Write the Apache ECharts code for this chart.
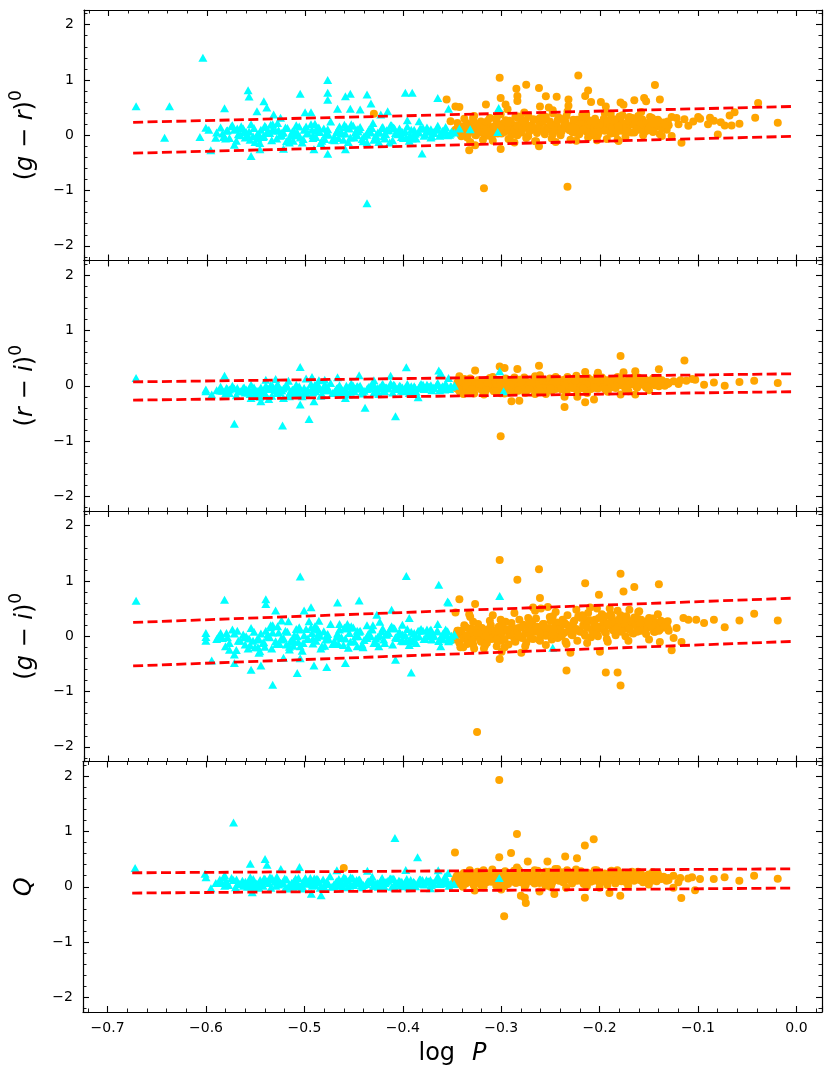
<!DOCTYPE html>
<html lang="en">
<head>
    <meta charset="UTF-8">
    <title>colour vs log P</title>
    <script type="text/javascript" src="https://cdn.jsdelivr.net/npm/echarts/dist/echarts.min.js"></script>
    <style>
        body { margin: 0; background: #fff; }
    </style>
</head>
<body>
<div id="main" style="width: 830px;height:1089px;"></div>
<script type="text/javascript">
    // log P of the cyan (triangle) stars in the dense band
    var CX = [
        -0.590,-0.586,-0.581,-0.579,-0.574,-0.570,-0.568,-0.563,-0.561,-0.557,
        -0.555,-0.551,-0.549,-0.545,-0.543,-0.540,-0.536,-0.534,-0.530,-0.528,
        -0.526,-0.522,-0.518,-0.516,-0.513,-0.509,-0.507,-0.503,-0.501,-0.498,
        -0.494,-0.492,-0.488,-0.486,-0.483,-0.479,-0.477,-0.474,-0.470,-0.468,
        -0.465,-0.461,-0.459,-0.455,-0.453,-0.450,-0.446,-0.444,-0.441,-0.437,
        -0.435,-0.431,-0.429,-0.426,-0.422,-0.420,-0.417,-0.413,-0.411,-0.408,
        -0.404,-0.402,-0.398,-0.396,-0.393,-0.389,-0.387,-0.384,-0.380,-0.378,
        -0.375,-0.371,-0.369,-0.366,-0.362,-0.360,-0.357,-0.353,-0.351,-0.348,
        -0.553,-0.538,-0.524,-0.508,-0.492,-0.478,-0.463,-0.447,-0.433,-0.418,
        -0.403,-0.388,-0.373,-0.546,-0.516,-0.484,-0.456,-0.425,-0.394,-0.365
    ];
    var CX2 = [
        -0.584,-0.577,-0.572,-0.566,-0.560,-0.556,-0.552,-0.547,-0.542,-0.538,
        -0.533,-0.529,-0.524,-0.520,-0.515,-0.511,-0.506,-0.502,-0.497,-0.493,
        -0.489,-0.485,-0.481,-0.476,-0.472,-0.467,-0.463,-0.458,-0.454,-0.449,
        -0.445,-0.440,-0.436,-0.432,-0.428,-0.424,-0.419,-0.415,-0.410,-0.406,
        -0.401,-0.397,-0.392,-0.388,-0.383,-0.379,-0.374,-0.370,-0.365,-0.361,
        -0.356,-0.352,-0.569,-0.548,-0.527,-0.505,-0.487,-0.466,-0.447,-0.428,
        -0.409,-0.390,-0.372,-0.355,-0.562,-0.541,-0.519,-0.499,-0.480,-0.460,
        -0.442,-0.421,-0.400,-0.382,-0.363,-0.535,-0.512,-0.490,-0.470,-0.451,
        -0.430,-0.412,-0.391,-0.376,-0.358,-0.580,-0.558,-0.533,-0.511,-0.488
    ];
    var GR_C = [
        0.05,0.14,-0.06,0.09,0.18,-0.10,0.02,0.12,-0.04,0.07,
        0.20,-0.12,0.01,0.10,-0.03,0.15,0.04,-0.09,0.08,0.22,
        -0.01,0.05,0.13,-0.08,0.07,0.18,0.00,-0.13,0.10,0.04,
        0.20,-0.05,0.08,0.14,-0.10,0.02,0.11,0.25,-0.03,0.06,
        0.16,-0.08,0.03,0.12,0.20,-0.04,0.07,0.15,-0.11,0.01,
        0.10,0.22,-0.06,0.05,0.13,-0.02,0.09,0.18,-0.09,0.04,
        0.12,-0.03,0.07,0.16,0.00,0.10,-0.06,0.05,0.13,0.02,
        0.09,-0.02,0.06,0.12,0.03,0.08,0.15,0.01,0.07,0.05,
        -0.02,0.06,0.00,0.05,0.00,0.03,0.06,0.00,0.05,0.02,
        0.08,0.03,0.07,-0.14,-0.13,-0.14,-0.12,-0.12,-0.10,0.17
    ];
    var GR_C2 = [
        0.03,-0.05,0.10,0.00,0.06,-0.08,0.13,0.02,-0.02,0.08,
        0.11,-0.06,0.04,0.14,-0.01,0.07,0.16,-0.07,0.03,0.10,
        -0.03,0.06,0.12,0.01,-0.08,0.09,0.03,0.15,-0.04,0.05,
        0.11,-0.02,0.07,0.13,0.00,0.05,-0.06,0.09,0.14,0.02,
        0.06,-0.04,0.10,0.03,0.12,-0.01,0.07,0.04,0.10,0.01,
        0.06,0.03,0.12,-0.06,0.09,-0.04,0.13,-0.05,0.11,-0.03,
        0.12,-0.02,0.11,0.00,0.07,0.17,-0.11,0.16,-0.07,0.19,
        -0.07,0.15,-0.05,0.12,-0.01,0.19,-0.10,0.21,-0.09,0.17,
        -0.08,0.18,-0.06,0.14,0.10,0.08,-0.02,0.20,0.00,0.13
    ];
    var RI_C = [
        -0.08,-0.02,-0.14,-0.06,0.00,-0.17,-0.10,-0.04,-0.12,-0.07,
        0.02,-0.15,-0.09,-0.03,-0.11,0.00,-0.06,-0.18,-0.08,0.03,
        -0.12,-0.05,-0.01,-0.14,-0.07,0.02,-0.10,-0.19,-0.04,-0.08,
        0.03,-0.12,-0.06,-0.01,-0.15,-0.08,-0.03,0.05,-0.11,-0.05,
        0.01,-0.13,-0.07,-0.02,0.04,-0.10,-0.05,0.00,-0.14,-0.06,
        -0.02,0.05,-0.11,-0.04,0.01,-0.08,-0.03,0.04,-0.12,-0.05,
        0.00,-0.09,-0.03,0.03,-0.07,-0.01,-0.11,-0.04,0.02,-0.06,
        -0.02,-0.08,-0.03,0.02,-0.05,-0.01,0.04,-0.06,-0.02,0.00,
        -0.09,-0.05,-0.08,-0.04,-0.07,-0.03,-0.06,-0.02,-0.05,-0.03,
        -0.01,-0.04,-0.02,-0.20,-0.19,-0.18,-0.16,-0.15,-0.13,0.05
    ];
    var RI_C2 = [
        -0.09,-0.13,-0.05,-0.10,-0.07,-0.15,-0.03,-0.09,-0.12,-0.05,
        -0.04,-0.13,-0.08,-0.02,-0.11,-0.06,-0.01,-0.14,-0.09,-0.04,
        -0.10,-0.06,-0.02,-0.08,-0.13,-0.04,-0.07,0.00,-0.11,-0.05,
        -0.02,-0.09,-0.04,0.01,-0.07,-0.03,-0.10,-0.05,0.02,-0.06,
        -0.03,-0.08,-0.01,-0.05,0.01,-0.06,-0.02,-0.04,0.02,-0.03,
        -0.05,-0.01,-0.04,-0.12,-0.03,-0.14,0.00,-0.12,-0.01,-0.10,
        0.01,-0.09,0.01,-0.06,-0.03,-0.13,0.00,-0.14,0.02,-0.12,
        -0.11,0.03,-0.10,0.03,-0.08,0.01,-0.14,0.02,-0.13,0.00,
        -0.12,0.01,-0.09,0.02,-0.07,-0.04,-0.12,-0.01,-0.15,0.00
    ];
    var GI_C = [
        -0.05,0.06,-0.18,-0.02,0.12,-0.25,-0.08,0.03,-0.15,-0.04,
        0.15,-0.20,-0.06,0.05,-0.12,0.10,-0.02,-0.22,-0.09,0.18,
        -0.14,-0.03,0.08,-0.19,-0.07,0.13,-0.10,-0.26,0.02,-0.05,
        0.16,-0.13,-0.02,0.07,-0.18,-0.06,0.04,0.22,-0.10,-0.01,
        0.12,-0.16,-0.04,0.06,0.18,-0.09,0.00,0.10,-0.20,-0.03,
        0.05,0.20,-0.12,-0.01,0.09,-0.06,0.03,0.15,-0.15,-0.02,
        0.08,-0.08,0.02,0.13,-0.05,0.06,-0.12,0.00,0.10,-0.04,
        0.05,-0.06,0.02,0.09,-0.03,0.04,0.12,-0.07,0.01,0.03,
        -0.08,-0.01,-0.06,0.00,-0.04,0.02,-0.03,0.01,0.00,0.03,
        0.04,0.00,0.02,-0.27,-0.24,-0.22,-0.21,-0.18,-0.16,0.22
    ];
    var GI_C2 = [
        -0.03,-0.12,0.05,-0.08,0.00,-0.16,0.08,-0.05,-0.11,0.03,
        0.07,-0.14,-0.03,0.10,-0.09,0.02,0.12,-0.12,-0.04,0.06,
        -0.08,0.01,0.09,-0.05,-0.14,0.05,-0.02,0.14,-0.10,0.00,
        0.08,-0.07,0.03,0.12,-0.04,0.02,-0.12,0.06,0.15,-0.03,
        0.03,-0.08,0.08,-0.01,0.11,-0.05,0.05,0.00,0.09,-0.02,
        0.02,-0.04,0.10,-0.20,0.07,-0.18,0.12,-0.14,0.10,-0.12,
        0.14,-0.10,0.12,-0.06,-0.02,-0.19,-0.15,0.13,-0.17,0.16,
        -0.15,0.14,-0.09,0.13,-0.05,0.20,-0.17,0.18,-0.13,0.16,
        -0.12,0.18,-0.08,0.12,0.08,0.06,-0.22,0.20,-0.10,0.15
    ];
    var Q_C = [
        0.07,0.13,0.02,0.09,0.16,-0.01,0.05,0.11,0.03,0.08,
        0.17,0.00,0.06,0.12,0.03,0.14,0.07,-0.02,0.09,0.18,
        0.04,0.08,0.13,0.01,0.07,0.15,0.05,-0.03,0.10,0.06,
        0.16,0.02,0.08,0.12,0.00,0.06,0.10,0.19,0.04,0.08,
        0.14,0.01,0.06,0.11,0.17,0.03,0.08,0.13,-0.01,0.05,
        0.10,0.18,0.02,0.07,0.12,0.04,0.09,0.15,0.00,0.06,
        0.11,0.03,0.07,0.14,0.05,0.09,0.01,0.06,0.12,0.04,
        0.09,0.03,0.07,0.11,0.05,0.08,0.13,0.02,0.06,0.05,
        0.05,0.09,0.06,0.08,0.05,0.07,0.09,0.06,0.08,0.07,
        0.10,0.07,0.09,-0.02,-0.03,-0.02,-0.01,0.00,-0.01,0.17
    ];
    var Q_C2 = [
        0.08,0.03,0.12,0.05,0.09,0.01,0.14,0.06,0.02,0.10,
        0.13,0.02,0.07,0.15,0.04,0.09,0.16,0.01,0.06,0.11,
        0.03,0.08,0.13,0.05,0.00,0.10,0.06,0.15,0.02,0.08,
        0.12,0.03,0.09,0.14,0.05,0.07,0.01,0.11,0.15,0.06,
        0.09,0.03,0.12,0.06,0.13,0.05,0.10,0.07,0.12,0.06,
        0.09,0.05,0.13,0.00,0.11,0.01,0.14,0.02,0.12,0.03,
        0.14,0.04,0.12,0.07,0.02,0.15,-0.01,0.16,0.00,0.17,
        0.02,0.16,0.01,0.13,0.05,0.17,0.00,0.15,0.01,0.16,
        0.02,0.15,0.03,0.12,0.10,0.09,0.00,0.16,0.03,0.14
    ];

    // log P of the orange (circle) stars in the dense band
    var OX = [
        -0.347,-0.345,-0.342,-0.340,-0.338,-0.335,-0.333,-0.331,-0.328,-0.326,
        -0.324,-0.321,-0.319,-0.317,-0.314,-0.312,-0.310,-0.307,-0.305,-0.303,
        -0.300,-0.298,-0.296,-0.293,-0.291,-0.289,-0.286,-0.284,-0.282,-0.279,
        -0.277,-0.275,-0.272,-0.270,-0.268,-0.265,-0.263,-0.261,-0.258,-0.256,
        -0.254,-0.251,-0.249,-0.247,-0.244,-0.242,-0.240,-0.237,-0.235,-0.233,
        -0.230,-0.228,-0.226,-0.223,-0.221,-0.219,-0.216,-0.214,-0.212,-0.209,
        -0.207,-0.205,-0.202,-0.200,-0.198,-0.195,-0.193,-0.191,-0.188,-0.186,
        -0.184,-0.181,-0.179,-0.177,-0.174,-0.172,-0.170,-0.167,-0.165,-0.163,
        -0.160,-0.158,-0.156,-0.153,-0.151,-0.149,-0.146,-0.144,-0.142,-0.139,
        -0.137,-0.135,-0.132,-0.130,-0.339,-0.318,-0.297,-0.276,-0.255,-0.234,
        -0.213,-0.192,-0.171,-0.150,-0.332,-0.309,-0.287,-0.266,-0.245,-0.224,
        -0.203,-0.182,-0.161,-0.141,-0.329,-0.301,-0.273,-0.248,-0.218,-0.189
    ];
    var OX2 = [
        -0.346,-0.343,-0.341,-0.339,-0.336,-0.334,-0.332,-0.329,-0.327,-0.325,
        -0.322,-0.320,-0.318,-0.315,-0.313,-0.311,-0.308,-0.306,-0.304,-0.301,
        -0.299,-0.297,-0.294,-0.292,-0.290,-0.287,-0.285,-0.283,-0.280,-0.278,
        -0.276,-0.273,-0.271,-0.269,-0.266,-0.264,-0.262,-0.259,-0.257,-0.255,
        -0.252,-0.250,-0.248,-0.245,-0.243,-0.241,-0.238,-0.236,-0.234,-0.231,
        -0.229,-0.227,-0.224,-0.222,-0.220,-0.217,-0.215,-0.213,-0.210,-0.208,
        -0.206,-0.203,-0.201,-0.199,-0.196,-0.194,-0.192,-0.189,-0.187,-0.185,
        -0.182,-0.180,-0.178,-0.175,-0.173,-0.171,-0.168,-0.166,-0.164,-0.161,
        -0.159,-0.157,-0.154,-0.152,-0.150,-0.147,-0.145,-0.143,-0.140,-0.138,
        -0.336,-0.325,-0.314,-0.302,-0.291,-0.280,-0.269,-0.258,-0.247,-0.236,
        -0.225,-0.214,-0.203,-0.192,-0.181,-0.170,-0.159,-0.148,-0.137,-0.131,
        -0.344,-0.330,-0.316,-0.305,-0.294,-0.283,-0.272,-0.261,-0.250,-0.239,
        -0.228,-0.217,-0.206,-0.195,-0.184,-0.173,-0.162,-0.151,-0.140,-0.134
    ];
    var GR_O = [
        0.10,0.22,0.02,0.15,0.30,-0.04,0.08,0.19,0.35,0.00,
        0.12,0.25,-0.08,0.06,0.17,0.31,-0.02,0.10,0.21,0.38,
        0.03,0.14,0.27,-0.07,0.08,0.19,0.33,0.00,0.12,0.23,
        0.41,-0.05,0.07,0.17,0.29,-0.11,0.10,0.21,0.35,0.02,
        0.14,0.25,-0.06,0.08,0.19,0.32,0.00,0.12,0.23,0.43,
        -0.08,0.06,0.16,0.28,0.02,0.13,0.24,0.38,-0.04,0.09,
        0.19,0.30,0.01,0.12,0.23,0.40,-0.07,0.08,0.18,0.29,
        0.03,0.14,0.25,0.36,-0.03,0.10,0.20,0.31,0.05,0.15,
        0.26,0.42,0.00,0.11,0.21,0.33,0.06,0.16,0.27,0.02,
        0.13,0.23,0.10,0.18,0.06,0.04,0.15,0.26,0.09,0.16,
        0.06,0.24,0.19,0.12,-0.12,-0.10,-0.13,-0.11,-0.12,-0.10,
        -0.09,-0.08,0.35,0.28,0.32,0.38,0.36,0.40,0.37,0.39
    ];
    var GR_O2 = [
        0.06,0.16,-0.02,0.11,0.22,0.04,0.14,0.27,0.01,0.09,
        0.18,0.05,0.13,0.24,-0.01,0.08,0.16,0.29,0.03,0.12,
        0.21,0.06,0.15,0.26,0.00,0.10,0.18,0.31,0.05,0.13,
        0.22,-0.02,0.09,0.17,0.28,0.04,0.14,0.24,0.07,0.33,
        0.11,0.20,0.02,0.16,0.27,0.06,0.13,0.22,0.35,0.09,
        0.17,0.28,0.04,0.12,0.21,0.33,0.08,0.18,0.26,0.00,
        0.14,0.23,0.06,0.16,0.30,0.10,0.20,0.03,0.13,0.25,
        0.17,0.34,0.08,0.21,0.12,0.28,0.05,0.19,0.24,0.10,
        0.16,0.29,0.07,0.22,0.14,0.31,0.11,0.20,0.25,0.15,
        0.16,0.21,0.26,0.14,0.24,0.29,0.11,0.26,0.15,0.30,
        0.13,0.34,0.09,0.27,0.16,0.33,0.20,0.28,0.21,0.25,
        0.18,0.12,0.07,0.31,0.22,0.34,0.16,0.31,0.19,0.07,
        0.06,0.10,0.05,0.08,0.04,0.07,0.11,0.09,0.23,0.19
    ];
    var RI_O = [
        -0.04,0.06,-0.12,0.02,0.12,-0.08,-0.02,0.08,-0.14,0.00,
        0.10,-0.06,0.03,-0.11,0.05,0.14,-0.03,0.01,-0.09,0.09,
        -0.05,0.04,0.13,-0.12,-0.01,0.07,-0.07,0.02,0.11,-0.04,
        0.15,-0.10,0.00,0.06,-0.05,0.12,0.03,-0.08,0.08,-0.02,
        0.04,0.13,-0.09,0.01,0.07,-0.04,0.10,0.02,-0.07,0.16,
        0.05,-0.03,0.09,-0.10,0.03,0.12,-0.02,0.06,0.14,-0.06,
        0.02,0.10,-0.05,0.07,0.15,0.00,-0.08,0.05,0.11,0.03,
        -0.04,0.08,0.13,0.01,-0.06,0.06,0.10,0.03,0.15,-0.02,
        0.07,0.12,0.02,-0.03,0.09,0.05,0.13,0.01,0.08,0.04,
        0.10,0.03,0.07,0.05,-0.15,-0.16,-0.14,-0.13,-0.15,-0.12,
        -0.13,-0.11,-0.10,-0.08,0.13,0.16,0.15,0.17,0.16,0.18,
        0.17,0.16,0.15,0.14,0.03,0.01,0.02,0.04,0.03,0.05
    ];
    var RI_O2 = [
        -0.02,-0.09,0.04,-0.05,0.08,-0.11,0.01,-0.06,0.05,-0.03,
        0.07,-0.08,0.00,0.10,-0.04,0.03,-0.10,0.06,-0.02,0.09,
        -0.06,0.02,0.11,-0.03,0.05,-0.09,0.08,-0.01,0.04,-0.07,
        0.09,0.00,-0.05,0.06,0.12,-0.02,0.03,-0.08,0.07,0.01,
        -0.04,0.10,0.04,-0.06,0.08,0.02,-0.03,0.11,0.05,-0.01,
        0.07,0.02,-0.05,0.09,0.04,0.12,-0.02,0.06,0.01,0.10,
        0.03,-0.04,0.08,0.05,0.11,0.00,0.07,-0.03,0.09,0.04,
        0.06,0.12,0.01,0.08,-0.02,0.10,0.04,0.07,0.13,0.02,
        0.08,0.03,0.11,0.06,0.01,0.09,0.05,0.12,0.07,0.04,
        0.00,0.03,0.05,-0.02,0.02,0.07,0.04,-0.04,0.06,0.01,
        0.09,0.03,0.06,0.10,0.05,0.02,0.08,0.04,0.06,0.03,
        -0.07,-0.06,-0.08,-0.10,-0.07,-0.09,-0.06,-0.08,-0.05,-0.07,
        -0.04,-0.05,-0.03,-0.06,-0.02,-0.04,-0.03,-0.02,-0.01,0.00
    ];
    var GI_O = [
        -0.06,0.10,-0.20,0.02,0.20,-0.14,-0.02,0.14,-0.22,0.05,
        0.22,-0.10,0.08,-0.17,0.12,0.28,-0.05,0.04,-0.18,0.17,
        -0.08,0.09,0.26,-0.15,0.02,0.16,-0.10,0.06,0.30,-0.03,
        0.20,-0.12,0.07,0.14,-0.05,0.32,0.10,-0.08,0.22,0.03,
        0.12,0.35,-0.06,0.08,0.25,0.00,0.18,0.06,-0.10,0.38,
        0.15,0.02,0.28,-0.08,0.10,0.33,0.05,0.20,0.42,-0.02,
        0.12,0.30,0.00,0.18,0.40,0.08,-0.05,0.24,0.35,0.10,
        0.02,0.22,0.38,0.12,0.00,0.28,0.16,0.06,0.34,0.20,
        0.10,0.30,0.14,0.04,0.26,0.18,0.32,0.08,0.22,0.12,
        0.26,0.16,0.20,0.10,-0.20,-0.22,-0.20,-0.18,-0.16,-0.14,
        -0.12,-0.10,-0.08,-0.06,0.35,0.38,0.42,0.46,0.44,0.48,
        0.50,0.46,0.44,0.40,0.26,0.30,0.33,0.36,0.38,0.40
    ];
    var GI_O2 = [
        0.04,-0.12,0.10,-0.04,0.16,-0.09,0.07,-0.15,0.12,0.00,
        -0.07,0.15,0.03,-0.12,0.08,0.20,-0.02,0.11,-0.08,0.05,
        0.18,-0.05,0.12,0.02,0.24,-0.06,0.09,0.15,-0.02,0.21,
        0.05,0.13,-0.04,0.26,0.08,0.17,-0.06,0.11,0.22,0.01,
        0.15,0.28,0.04,0.19,-0.03,0.12,0.30,0.07,0.21,0.14,
        0.03,0.25,0.13,0.36,0.08,0.20,0.01,0.16,0.29,0.10,
        0.22,0.04,0.33,0.14,0.26,0.06,0.19,0.38,0.12,0.24,
        0.16,0.30,0.08,0.22,0.36,0.14,0.27,0.05,0.20,0.31,
        0.18,0.10,0.26,0.15,0.33,0.21,0.08,0.24,0.17,0.28,
        0.02,0.06,-0.04,0.10,0.04,0.16,0.08,0.20,0.13,0.24,
        0.10,0.28,0.16,0.22,0.30,0.12,0.24,0.18,0.26,0.14,
        0.10,-0.08,0.00,-0.06,0.12,0.02,0.22,0.05,0.28,0.00,
        0.06,0.34,0.04,0.36,0.12,0.32,0.08,0.26,0.10,0.20
    ];
    var Q_O = [
        0.12,0.20,0.05,0.15,0.25,0.08,0.13,0.22,0.03,0.17,
        0.27,0.10,0.18,0.06,0.14,0.24,0.09,0.16,0.02,0.21,
        0.12,0.19,0.28,0.05,0.14,0.23,0.08,0.17,0.30,0.11,
        0.20,0.04,0.13,0.25,0.09,0.18,0.29,0.07,0.15,0.22,
        0.10,0.27,0.03,0.16,0.21,0.12,0.26,0.08,0.19,0.30,
        0.14,0.06,0.23,0.11,0.18,0.28,0.05,0.16,0.25,0.09,
        0.20,0.13,0.27,0.07,0.17,0.24,0.10,0.19,0.29,0.12,
        0.06,0.18,0.25,0.14,0.09,0.22,0.16,0.27,0.11,0.19,
        0.13,0.24,0.08,0.17,0.21,0.12,0.26,0.15,0.10,0.19,
        0.14,0.18,0.11,0.16,0.00,-0.01,0.01,0.00,0.02,-0.02,
        0.01,0.03,0.02,0.04,0.30,0.31,0.29,0.30,0.32,0.31,
        0.30,0.28,0.27,0.25,0.13,0.15,0.16,0.14,0.17,0.15
    ];
    var Q_O2 = [
        0.16,0.09,0.21,0.12,0.06,0.18,0.10,0.24,0.14,0.07,
        0.19,0.13,0.22,0.08,0.17,0.11,0.25,0.15,0.05,0.20,
        0.14,0.23,0.09,0.18,0.12,0.26,0.07,0.16,0.21,0.10,
        0.17,0.25,0.11,0.19,0.06,0.22,0.14,0.09,0.18,0.27,
        0.13,0.20,0.08,0.24,0.15,0.11,0.19,0.26,0.12,0.17,
        0.22,0.10,0.18,0.14,0.25,0.08,0.20,0.13,0.23,0.16,
        0.11,0.19,0.24,0.15,0.09,0.21,0.17,0.12,0.26,0.18,
        0.14,0.22,0.10,0.19,0.16,0.24,0.12,0.20,0.15,0.17,
        0.21,0.13,0.18,0.16,0.22,0.11,0.19,0.14,0.17,0.15,
        0.10,0.18,0.13,0.21,0.16,0.08,0.20,0.12,0.24,0.15,
        0.19,0.11,0.23,0.14,0.18,0.25,0.12,0.20,0.16,0.13,
        0.20,0.08,0.16,0.12,0.22,0.10,0.18,0.14,0.21,0.17,
        0.13,0.19,0.24,0.15,0.11,0.21,0.17,0.13,0.18,0.16
    ];

    // scattered stars outside the dense bands, [log P, colour]
    var GR_C_OUT = [[-0.672,0.525],[-0.638,0.525],[-0.643,-0.045],[-0.604,1.40],[-0.607,-0.03],[-0.601,0.135],[-0.598,0.10],[-0.596,-0.27],[-0.591,-0.045],[-0.582,0.49],[-0.583,-0.03],[-0.575,0.165],[-0.572,-0.17],[-0.565,0.165],[-0.558,0.815],[-0.557,0.70],[-0.555,-0.375],[-0.549,0.435],[-0.542,0.615],[-0.539,0.50],[-0.546,-0.255],[-0.532,0.375],[-0.525,0.315],[-0.522,-0.245],[-0.505,0.75],[-0.500,0.415],[-0.494,0.415],[-0.491,-0.255],[-0.477,1.00],[-0.477,0.77],[-0.477,0.64],[-0.477,-0.335],[-0.467,0.48],[-0.459,0.705],[-0.454,0.75],[-0.459,-0.255],[-0.454,0.48],[-0.444,0.465],[-0.437,0.735],[-0.433,0.575],[-0.437,-1.23],[-0.437,-0.13],[-0.423,0.375],[-0.416,0.435],[-0.414,-0.13],[-0.398,0.77],[-0.391,0.77],[-0.396,0.27],[-0.365,0.675],[-0.354,0.48],[-0.384,0.255],[-0.381,-0.33],[-0.372,-0.04],[-0.303,0.495],[-0.304,0.06],[-0.343,0.12],[-0.332,0.11]];
    var GR_O_OUT = [[-0.356,0.645],[-0.347,0.52],[-0.343,0.51],[-0.352,0.255],[-0.333,-0.27],[-0.318,-0.96],[-0.316,0.555],[-0.302,1.04],[-0.301,0.675],[-0.301,-0.25],[-0.296,0.555],[-0.294,0.47],[-0.285,0.84],[-0.284,0.71],[-0.284,0.62],[-0.275,0.915],[-0.262,0.855],[-0.261,0.52],[-0.255,0.705],[-0.244,0.695],[-0.252,0.5],[-0.248,0.45],[-0.233,-0.93],[-0.232,0.645],[-0.232,0.535],[-0.222,1.08],[-0.212,0.81],[-0.215,0.71],[-0.209,0.60],[-0.199,0.60],[-0.194,0.52],[-0.179,0.59],[-0.176,0.55],[-0.165,0.635],[-0.155,0.675],[-0.153,0.615],[-0.144,0.91],[-0.139,0.645],[-0.181,-0.105],[-0.137,-0.015],[-0.127,0.33],[-0.122,0.31],[-0.114,0.29],[-0.117,-0.135],[-0.127,-0.015],[-0.100,0.33],[-0.098,0.30],[-0.088,0.315],[-0.084,0.26],[-0.077,0.235],[-0.080,0.015],[-0.068,0.355],[-0.063,0.415],[-0.073,0.175],[-0.066,0.175],[-0.058,0.21],[-0.042,0.315],[-0.039,0.585],[-0.019,0.225],[-0.120,0.20],[-0.110,0.17],[-0.105,0.25],[-0.090,0.20],[-0.262,-0.20],[-0.327,-0.18],[-0.430,0.39]];

    var RI_C_OUT = [[-0.672,0.14],[-0.601,-0.07],[-0.601,-0.10],[-0.595,-0.16],[-0.586,-0.085],[-0.582,0.18],[-0.577,-0.07],[-0.572,-0.685],[-0.555,-0.22],[-0.545,-0.28],[-0.540,0.11],[-0.530,0.12],[-0.537,-0.24],[-0.523,-0.72],[-0.522,-0.22],[-0.517,0.09],[-0.505,-0.34],[-0.505,0.34],[-0.499,0.13],[-0.493,0.16],[-0.496,-0.60],[-0.491,-0.28],[-0.486,0.10],[-0.480,0.11],[-0.467,0.155],[-0.459,-0.22],[-0.445,0.19],[-0.439,-0.40],[-0.430,0.10],[-0.413,0.18],[-0.408,-0.55],[-0.397,0.335],[-0.385,-0.21],[-0.364,0.275],[-0.354,0.14],[-0.362,0.23],[-0.355,-0.04],[-0.302,0.26],[-0.298,-0.10]];
    var RI_O_OUT = [[-0.343,0.17],[-0.327,0.275],[-0.302,0.35],[-0.297,0.32],[-0.301,-0.915],[-0.301,-0.135],[-0.290,-0.28],[-0.282,-0.27],[-0.284,0.305],[-0.262,0.36],[-0.261,0.19],[-0.266,-0.15],[-0.236,-0.20],[-0.223,-0.20],[-0.236,-0.385],[-0.215,0.25],[-0.215,-0.30],[-0.206,-0.25],[-0.202,0.235],[-0.179,0.54],[-0.176,0.245],[-0.179,-0.16],[-0.164,0.26],[-0.164,-0.16],[-0.140,0.30],[-0.114,0.455],[-0.125,0.08],[-0.118,0.10],[-0.112,0.09],[-0.106,0.12],[-0.103,0.11],[-0.094,0.02],[-0.084,0.06],[-0.073,0.00],[-0.058,0.07],[-0.043,0.09],[-0.019,0.05],[-0.130,0.05],[-0.120,0.03]];

    var GI_C_OUT = [[-0.672,0.64],[-0.601,0.06],[-0.601,-0.015],[-0.601,-0.08],[-0.595,-0.44],[-0.588,0.0],[-0.582,0.66],[-0.577,-0.245],[-0.572,-0.485],[-0.572,-0.33],[-0.555,-0.605],[-0.545,-0.53],[-0.547,-0.30],[-0.540,0.67],[-0.540,0.585],[-0.530,0.465],[-0.535,0.165],[-0.533,-0.875],[-0.524,0.285],[-0.522,-0.39],[-0.517,0.27],[-0.506,0.165],[-0.508,-0.665],[-0.505,-0.40],[-0.505,1.08],[-0.501,0.465],[-0.494,0.525],[-0.496,0.27],[-0.491,-0.53],[-0.486,0.28],[-0.478,-0.555],[-0.467,0.61],[-0.465,0.22],[-0.459,-0.485],[-0.457,0.22],[-0.455,0.16],[-0.445,0.645],[-0.447,-0.18],[-0.437,0.20],[-0.432,0.13],[-0.427,0.39],[-0.424,0.26],[-0.412,0.48],[-0.408,-0.425],[-0.401,0.21],[-0.397,1.09],[-0.394,0.33],[-0.392,-0.655],[-0.385,0.10],[-0.373,0.10],[-0.373,0.0],[-0.364,0.93],[-0.364,-0.085],[-0.354,0.61],[-0.354,-0.05],[-0.355,0.63],[-0.355,0.09],[-0.354,-0.09],[-0.362,-0.18],[-0.302,0.73],[-0.248,-0.21]];
    var GI_O_OUT = [[-0.343,0.67],[-0.347,0.43],[-0.327,0.585],[-0.333,0.40],[-0.302,1.38],[-0.302,-0.41],[-0.325,-1.73],[-0.284,1.02],[-0.262,1.21],[-0.261,0.69],[-0.268,0.52],[-0.253,0.53],[-0.234,-0.62],[-0.215,0.96],[-0.201,0.75],[-0.194,-0.655],[-0.182,-0.655],[-0.179,-0.89],[-0.179,1.13],[-0.176,0.81],[-0.165,0.89],[-0.140,0.94],[-0.139,-0.105],[-0.127,-0.255],[-0.125,-0.03],[-0.131,0.27],[-0.122,0.15],[-0.117,-0.105],[-0.115,0.33],[-0.110,0.30],[-0.102,0.30],[-0.094,0.24],[-0.084,0.30],[-0.073,0.165],[-0.058,0.285],[-0.043,0.405],[-0.019,0.285],[-0.260,0.50],[-0.210,0.52],[-0.190,0.50],[-0.170,0.48],[-0.300,-0.28],[-0.280,-0.30],[-0.230,-0.30],[-0.200,-0.28],[-0.160,0.45]];

    var Q_C_OUT = [[-0.672,0.34],[-0.601,0.235],[-0.600,0.17],[-0.595,-0.025],[-0.586,0.07],[-0.582,0.17],[-0.581,0.21],[-0.572,1.16],[-0.555,0.415],[-0.553,-0.10],[-0.540,0.50],[-0.538,0.40],[-0.524,0.32],[-0.505,0.355],[-0.493,-0.125],[-0.483,-0.155],[-0.467,0.30],[-0.436,0.29],[-0.408,0.88],[-0.397,0.305],[-0.385,0.535],[-0.372,-0.025],[-0.364,0.30],[-0.364,0.17],[-0.354,0.25],[-0.408,-0.02],[-0.357,0.19],[-0.354,0.07],[-0.302,0.16]];
    var Q_O_OUT = [[-0.460,0.34],[-0.347,0.62],[-0.302,1.93],[-0.297,-0.535],[-0.327,-0.07],[-0.318,0.30],[-0.302,0.535],[-0.290,0.61],[-0.284,0.955],[-0.284,0.35],[-0.280,-0.165],[-0.276,-0.20],[-0.275,-0.295],[-0.273,0.455],[-0.261,-0.085],[-0.253,0.455],[-0.246,-0.13],[-0.243,0.32],[-0.235,0.545],[-0.223,0.515],[-0.215,0.745],[-0.206,0.86],[-0.215,-0.20],[-0.205,0.30],[-0.190,-0.115],[-0.179,-0.165],[-0.182,0.30],[-0.117,-0.205],[-0.103,-0.065],[-0.125,-0.02],[-0.125,0.20],[-0.118,0.16],[-0.110,0.15],[-0.106,0.17],[-0.098,0.14],[-0.084,0.14],[-0.073,0.17],[-0.058,0.11],[-0.043,0.20],[-0.019,0.145],[-0.120,0.08],[-0.130,0.12],[-0.320,0.02],[-0.300,-0.05],[-0.250,0.00],[-0.200,-0.02]];

    // dashed boundary lines, [log P, colour] at both ends
    var GR_UP = [[-0.675,0.234],[-0.005,0.52]];
    var GR_LO = [[-0.675,-0.324],[-0.005,-0.02]];
    var RI_UP = [[-0.675,0.07],[-0.005,0.216]];
    var RI_LO = [[-0.675,-0.26],[-0.005,-0.108]];
    var GI_UP = [[-0.675,0.25],[-0.005,0.688]];
    var GI_LO = [[-0.675,-0.537],[-0.005,-0.094]];
    var Q_UP = [[-0.675,0.252],[-0.005,0.324]];
    var Q_LO = [[-0.675,-0.114],[-0.005,-0.024]];

    var X_MIN = -0.725, X_MAX = 0.026;
    var Y_MIN = -2.265, Y_MAX = 2.265;

    function pairs(xs, ys) {
        var out = [];
        for (var k = 0; k < xs.length && k < ys.length; k++) {
            out.push([xs[k], ys[k]]);
        }
        return out;
    }
    function fmt(v, digits) {
        var s = Math.abs(v) < 1e-9 ? (0).toFixed(digits) : v.toFixed(digits);
        return s.replace('-', '\u2212');
    }

    var panels = [
        {name: '{n|(}{i|g}{n| \u2212 }{i|r}{n|)}{s|0}',
            orange: pairs(OX, GR_O).concat(pairs(OX2, GR_O2), GR_O_OUT),
            cyan: pairs(CX, GR_C).concat(pairs(CX2, GR_C2), GR_C_OUT), up: GR_UP, lo: GR_LO},
        {name: '{n|(}{i|r}{n| \u2212 }{i|i}{n|)}{s|0}',
            orange: pairs(OX, RI_O).concat(pairs(OX2, RI_O2), RI_O_OUT),
            cyan: pairs(CX, RI_C).concat(pairs(CX2, RI_C2), RI_C_OUT), up: RI_UP, lo: RI_LO},
        {name: '{n|(}{i|g}{n| \u2212 }{i|i}{n|)}{s|0}',
            orange: pairs(OX, GI_O).concat(pairs(OX2, GI_O2), GI_O_OUT),
            cyan: pairs(CX, GI_C).concat(pairs(CX2, GI_C2), GI_C_OUT), up: GI_UP, lo: GI_LO},
        {name: '{i|Q}',
            orange: pairs(OX, Q_O).concat(pairs(OX2, Q_O2), Q_O_OUT),
            cyan: pairs(CX, Q_C).concat(pairs(CX2, Q_C2), Q_C_OUT), up: Q_UP, lo: Q_LO}
    ];

    var FONT = 'DejaVu Sans';
    var axisLine = {onZero: false, lineStyle: {color: '#000', width: 1.2}};
    var axisTick = {inside: true, length: 6, lineStyle: {color: '#000', width: 1.1}};
    var minorTick = {show: true, splitNumber: 5, length: 3.5, lineStyle: {color: '#000', width: 0.9}};
    var nameRich = {
        n: {fontFamily: FONT, fontSize: 24, lineHeight: 36, color: '#000'},
        i: {fontFamily: FONT, fontSize: 24, lineHeight: 36, fontStyle: 'italic', color: '#000'},
        s: {fontFamily: FONT, fontSize: 17, lineHeight: 20, verticalAlign: 'top', color: '#000'}
    };

    var grids = [], xAxes = [], yAxes = [], series = [];
    for (var i = 0; i < 4; i++) {
        grids.push({left: 83, width: 739, top: 10 + i * 250.5, height: 250.5});
        var last = (i === 3);
        xAxes.push({
            type: 'value', gridIndex: i, position: 'bottom', min: X_MIN, max: X_MAX, splitNumber: 8,
            axisLine: axisLine, axisTick: axisTick, minorTick: minorTick, splitLine: {show: false},
            axisLabel: {show: last, showMinLabel: false, showMaxLabel: false, margin: 9,
                fontFamily: FONT, fontSize: 14, color: '#000',
                formatter: function (v) { return fmt(v, 1); }},
            name: last ? '{n|log}{p|P}' : '', nameLocation: 'middle', nameGap: 30,
            nameTextStyle: {rich: {
                n: {fontFamily: FONT, fontSize: 24, color: '#000'},
                p: {fontFamily: FONT, fontSize: 24, fontStyle: 'italic', color: '#000', padding: [0, 0, 0, 17]}
            }}
        });
        xAxes.push({
            type: 'value', gridIndex: i, position: 'top', min: X_MIN, max: X_MAX, splitNumber: 8,
            axisLine: axisLine, axisTick: axisTick, minorTick: minorTick, splitLine: {show: false},
            axisLabel: {show: false}
        });
        yAxes.push({
            type: 'value', gridIndex: i, position: 'left', min: Y_MIN, max: Y_MAX, splitNumber: 4,
            axisLine: axisLine, axisTick: axisTick, minorTick: minorTick, splitLine: {show: false},
            axisLabel: {showMinLabel: false, showMaxLabel: false, margin: 10,
                fontFamily: FONT, fontSize: 14, color: '#000',
                formatter: function (v) { return fmt(v, 0); }},
            name: panels[i].name, nameLocation: 'middle', nameRotate: 90, nameGap: 40,
            nameTextStyle: {rich: nameRich}
        });
        yAxes.push({
            type: 'value', gridIndex: i, position: 'right', min: Y_MIN, max: Y_MAX, splitNumber: 4,
            axisLine: axisLine, axisTick: axisTick, minorTick: minorTick, splitLine: {show: false},
            axisLabel: {show: false}
        });

        series.push({
            type: 'scatter', xAxisIndex: 2 * i, yAxisIndex: 2 * i,
            symbol: 'circle', symbolSize: 8,
            itemStyle: {color: '#ffa500', opacity: 1},
            data: panels[i].orange, z: 2
        });
        series.push({
            type: 'scatter', xAxisIndex: 2 * i, yAxisIndex: 2 * i,
            symbol: 'triangle', symbolSize: [9, 8],
            itemStyle: {color: '#00ffff', opacity: 1},
            data: panels[i].cyan, z: 3
        });
        [panels[i].up, panels[i].lo].forEach(function (seg) {
            series.push({
                type: 'line', xAxisIndex: 2 * i, yAxisIndex: 2 * i,
                symbol: 'none', silent: true, z: 4,
                lineStyle: {color: '#ff0000', width: 2.8, type: [10, 4.4]},
                data: seg
            });
        });
    }

    var myChart = echarts.init(document.getElementById('main'));
    myChart.setOption({
        animation: false,
        backgroundColor: '#fff',
        grid: grids,
        xAxis: xAxes,
        yAxis: yAxes,
        series: series
    });
</script>
</body>
</html>
